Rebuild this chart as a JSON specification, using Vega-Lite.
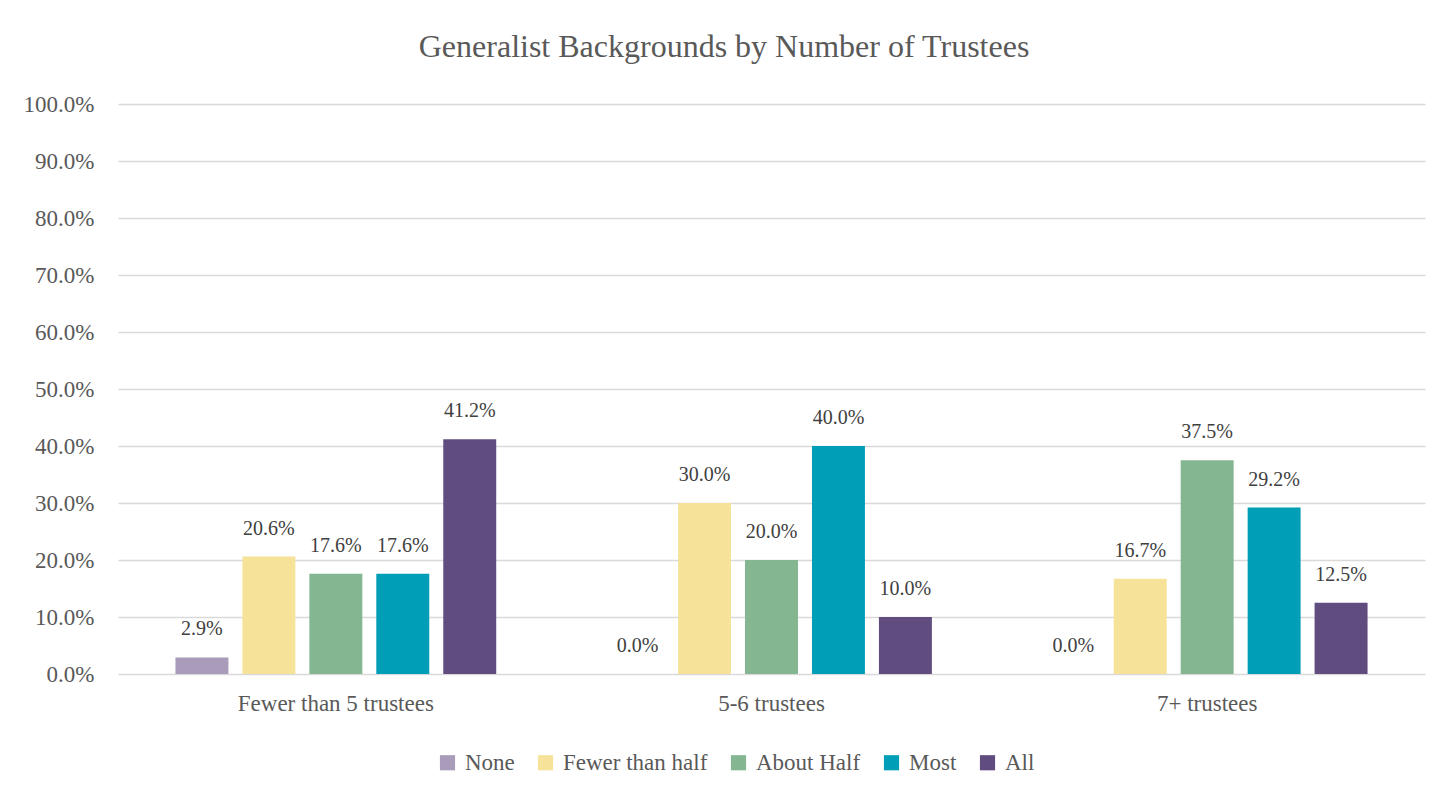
{
  "$schema": "https://vega.github.io/schema/vega-lite/v6.json",
  "autosize": {"type": "none"},
  "width": 1307,
  "height": 570,
  "padding": {"left": 118, "top": 104, "right": 22, "bottom": 125},
  "background": "white",
  "title": {
    "text": "Generalist Backgrounds by Number of Trustees",
    "font": "Liberation Serif",
    "fontSize": 32,
    "fontWeight": "normal",
    "color": "#595959",
    "anchor": "middle",
    "frame": "bounds",
    "offset": 29
  },
  "data": {
    "values": [
      {"group": "Fewer than 5 trustees", "cat": "None", "v": 0.029},
      {"group": "Fewer than 5 trustees", "cat": "Fewer than half", "v": 0.206},
      {"group": "Fewer than 5 trustees", "cat": "About Half", "v": 0.176},
      {"group": "Fewer than 5 trustees", "cat": "Most", "v": 0.176},
      {"group": "Fewer than 5 trustees", "cat": "All", "v": 0.412},
      {"group": "5-6 trustees", "cat": "None", "v": 0.0},
      {"group": "5-6 trustees", "cat": "Fewer than half", "v": 0.30},
      {"group": "5-6 trustees", "cat": "About Half", "v": 0.20},
      {"group": "5-6 trustees", "cat": "Most", "v": 0.40},
      {"group": "5-6 trustees", "cat": "All", "v": 0.10},
      {"group": "7+ trustees", "cat": "None", "v": 0.0},
      {"group": "7+ trustees", "cat": "Fewer than half", "v": 0.167},
      {"group": "7+ trustees", "cat": "About Half", "v": 0.375},
      {"group": "7+ trustees", "cat": "Most", "v": 0.292},
      {"group": "7+ trustees", "cat": "All", "v": 0.125}
    ]
  },
  "encoding": {
    "x": {
      "field": "group", "type": "nominal",
      "sort": ["Fewer than 5 trustees", "5-6 trustees", "7+ trustees"],
      "scale": {"paddingInner": 0, "paddingOuter": 0},
      "axis": {
        "title": null, "labelAngle": 0, "ticks": false, "domain": false,
        "labelFont": "Liberation Serif", "labelFontSize": 23, "labelColor": "#595959",
        "labelPadding": 18, "labelLimit": 0
      }
    },
    "xOffset": {
      "field": "cat", "type": "nominal",
      "sort": ["None", "Fewer than half", "About Half", "Most", "All"],
      "scale": {"paddingInner": 0.209, "paddingOuter": 0.858}
    },
    "y": {
      "field": "v", "type": "quantitative",
      "scale": {"domain": [0, 1], "nice": false},
      "axis": {
        "title": null, "format": ".1%", "values": [0, 0.1, 0.2, 0.3, 0.4, 0.5, 0.6, 0.7, 0.8, 0.9, 1.0],
        "labelOverlap": false,
        "ticks": false, "domain": false, "gridColor": "#d9d9d9", "gridWidth": 1.3,
        "labelFont": "Liberation Serif", "labelFontSize": 23, "labelColor": "#595959",
        "labelPadding": 24
      }
    }
  },
  "layer": [
    {
      "mark": {"type": "bar"},
      "encoding": {
        "color": {
          "field": "cat", "type": "nominal",
          "sort": ["None", "Fewer than half", "About Half", "Most", "All"],
          "scale": {
            "domain": ["None", "Fewer than half", "About Half", "Most", "All"],
            "range": ["#a99cba", "#f6e299", "#84b692", "#009fb7", "#604c7f"]
          },
          "legend": {
            "title": null, "orient": "none", "direction": "horizontal",
            "legendX": 318, "legendY": 647,
            "symbolType": "square", "symbolSize": 230, "symbolStrokeWidth": 0,
            "labelFont": "Liberation Serif", "labelFontSize": 23, "labelColor": "#595959",
            "columnPadding": 19, "labelOffset": 6
          }
        }
      }
    },
    {
      "mark": {"type": "text", "baseline": "bottom", "dy": -18, "font": "Liberation Serif", "fontSize": 20, "color": "#404040"},
      "encoding": {
        "text": {"field": "v", "type": "quantitative", "format": ".1%"}
      }
    }
  ],
  "config": {
    "view": {"stroke": null}
  }
}
